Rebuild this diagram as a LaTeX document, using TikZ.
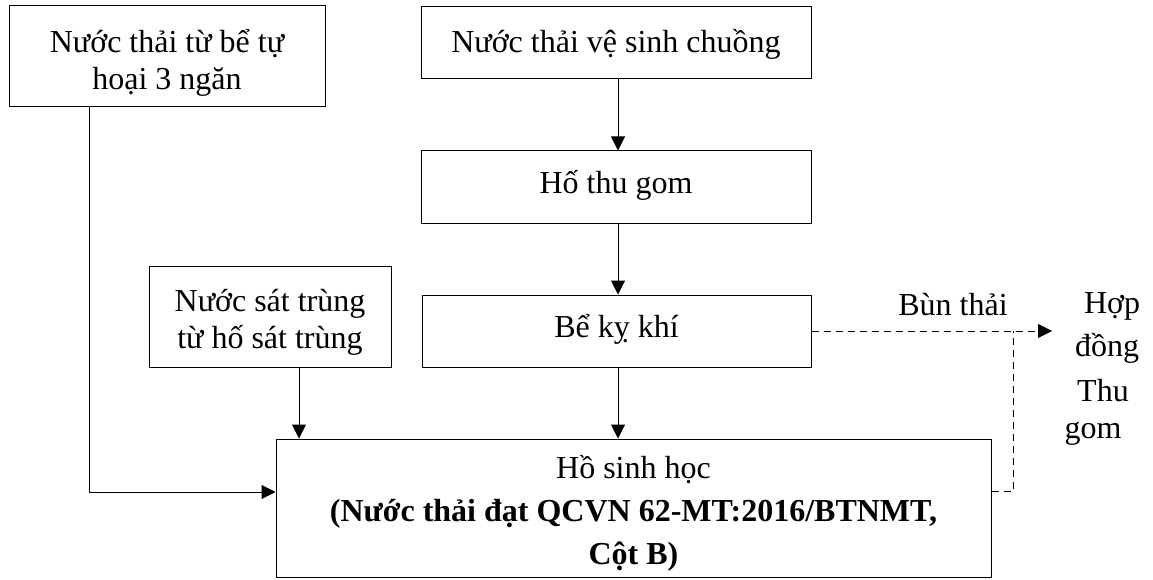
\documentclass[tikz,border=0pt]{standalone}
\usepackage{fontspec}
\setmainfont{Liberation Serif}
\usetikzlibrary{arrows.meta}
\begin{document}
\begin{tikzpicture}[x=1pt,y=-1pt,
  box/.style={draw,line width=1pt,rectangle,inner sep=0pt},
  txt/.style={inner sep=0pt,align=center,font=\fontsize{32}{37}\selectfont},
  lbl/.style={inner sep=0pt,font=\fontsize{32}{37}\selectfont},
  flow/.style={line width=1pt,-{Triangle[length=14pt,width=14pt]}},
  dflow/.style={line width=1pt,dash pattern=on 7pt off 5pt,-{Triangle[length=14pt,width=14pt]}},
  dline/.style={line width=1pt,dash pattern=on 7pt off 5pt}]
\useasboundingbox (0,0) rectangle (1153,580);
\node[box,minimum width=316pt,minimum height=101pt] (b1) at (167,56.5) {};
\node[txt] (b1t) at (167,63) {Nước thải từ bể tự\\hoại 3 ngăn};
\node[box,minimum width=390pt,minimum height=72pt] (b2) at (616,43) {};
\node[txt] (b2t) at (616,44) {Nước thải vệ sinh chuồng};
\node[box,minimum width=390pt,minimum height=72pt] (b3) at (616,187) {};
\node[txt] (b3t) at (616,185) {Hố thu gom};
\node[box,minimum width=389pt,minimum height=72pt] (b4) at (616.5,331) {};
\node[txt] (b4t) at (616.5,329) {Bể kỵ khí};
\node[box,minimum width=242pt,minimum height=101pt] (b6) at (270,316.5) {};
\node[txt] (b6t) at (270,322) {Nước sát trùng\\từ hố sát trùng};
\node[box,minimum width=715pt,minimum height=138pt] (b5) at (633.5,508) {};
\node[txt,font=\fontsize{32}{43}\selectfont] (b5t) at (633.5,513)
  {Hồ sinh học\\\textbf{(Nước thải đạt QCVN 62-MT:2016/BTNMT,}\\\textbf{Cột B)}};
\node[lbl] (bun) at (953,305) {Bùn thải};
\node[lbl] (h1) at (1112,306) {Hợp};
\node[lbl] (h2) at (1107,348) {đồng};
\node[lbl] (h3) at (1103,391) {Thu};
\node[lbl] (h4) at (1093,434) {gom};
\coordinate (j1) at (89,492);
\coordinate (j2) at (1013,491);
\coordinate (tip) at (1052,331);
\draw[flow] (b2.south -| 618,0) -- (b3.north -| 618,0);
\draw[flow] (b3.south -| 618,0) -- (b4.north -| 618,0);
\draw[flow] (b4.south -| 618,0) -- (b5.north -| 618,0);
\draw[flow] (b6.south -| 299,0) -- (b5.north -| 299,0);
\draw[flow] (b1.south -| j1) -- (j1) -- (b5.west |- j1);
\draw[dflow] (b4.east) -- (tip);
\draw[dline] (b5.east |- j2) -- (j2) -- (j2 |- b4.east);
\end{tikzpicture}
\end{document}
